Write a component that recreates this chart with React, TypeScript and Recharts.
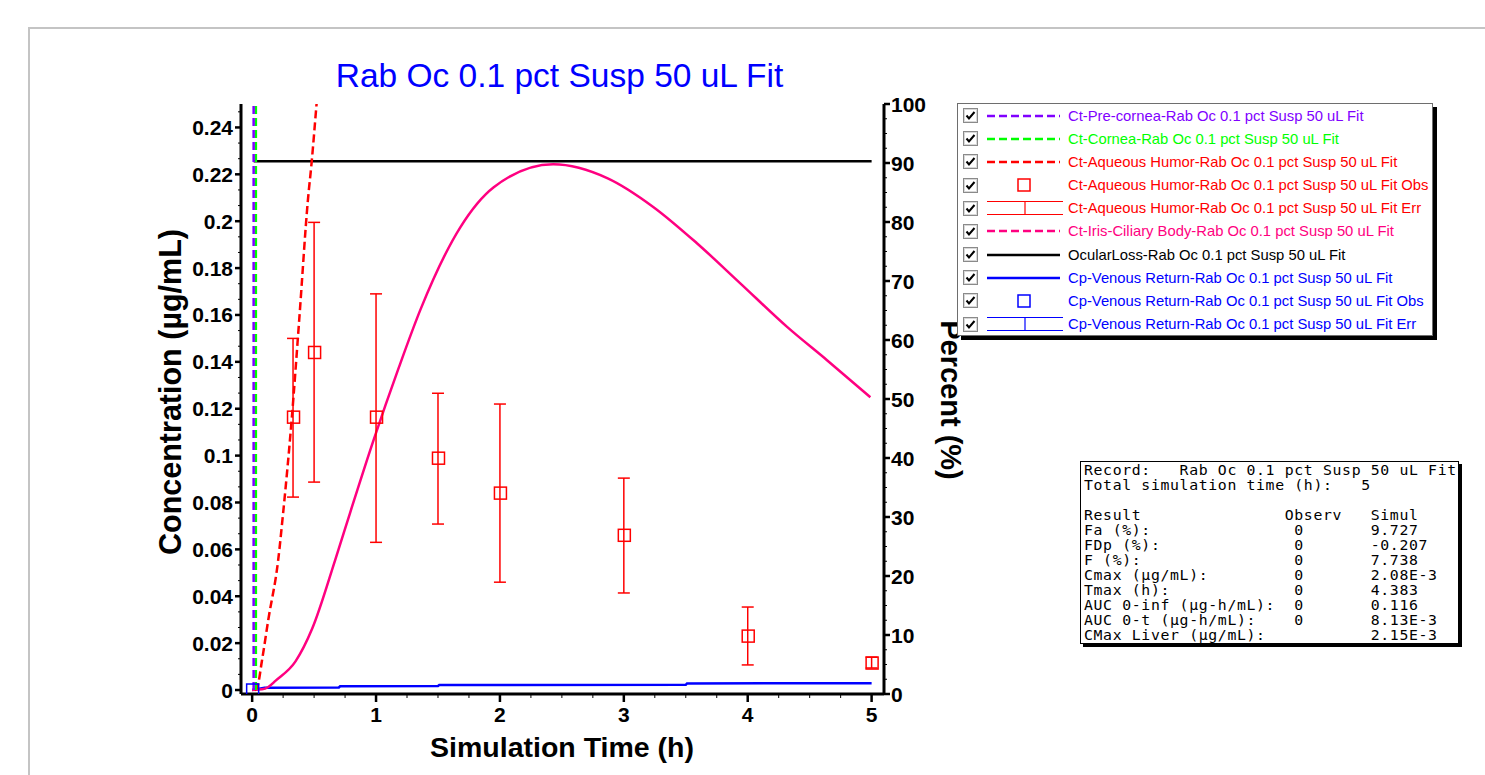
import React from "react";
import { ComposedChart, Line, Scatter, ErrorBar, XAxis, YAxis } from "recharts";

// time (h) and values
const preCorneaTime = [0.012, 0.012];
const preCorneaConc = [0, 1];

const corneaTime = [0.03, 0.03];
const corneaConc = [0, 1];

const aqueousTime = [0.02, 0.04, 0.08, 0.13, 0.21, 0.25, 0.32, 0.38, 0.45, 0.48, 0.52, 0.56];
const aqueousConc = [0, 0.001, 0.0128, 0.0299, 0.0554, 0.0755, 0.116, 0.158, 0.209, 0.225, 0.25, 0.275];

const aqObsTime = [0.33, 0.5, 1, 1.5, 2, 3, 4, 5];
const aqObsConc = [0.1164, 0.144, 0.1164, 0.0989, 0.084, 0.066, 0.023, 0.0115];
const aqObsHigh = [0.15, 0.1995, 0.169, 0.1266, 0.122, 0.0904, 0.0354, 0.014];
const aqObsLow = [0.0823, 0.0887, 0.063, 0.0708, 0.046, 0.0414, 0.0107, 0.0094];

const irisTime = [0, 0.08, 0.13, 0.19, 0.35, 0.485, 0.67, 0.79, 0.98, 1.18, 1.36, 1.68, 1.95, 2.43, 2.87, 3.24, 3.59, 3.94, 4.32, 4.64, 4.99];
const irisConc = [0, 0.0003, 0.0013, 0.004, 0.0122, 0.0262, 0.0554, 0.0755, 0.1066, 0.137, 0.1625, 0.1974, 0.2145, 0.2243, 0.2183, 0.206, 0.1906, 0.1735, 0.1548, 0.1407, 0.1249];

const ocularLossTime = [0.012, 5];
const ocularLossPct = [90.3, 90.3];

const venousTime = [0, 0.1, 0.7, 0.71, 1.5, 1.51, 3.5, 3.51, 5];
const venousConc = [0, 0.001, 0.0011, 0.0016, 0.0017, 0.0021, 0.0022, 0.0028, 0.0029];

const venousObsTime = [0];
const venousObsConc = [0];

const xMajorTicks = [0, 1, 2, 3, 4, 5];
const leftMajorTicks = [0, 0.02, 0.04, 0.06, 0.08, 0.1, 0.12, 0.14, 0.16, 0.18, 0.2, 0.22, 0.24];
const rightMajorTicks = [0, 10, 20, 30, 40, 50, 60, 70, 80, 90, 100];

const legendNames = [
  "Ct-Pre-cornea-Rab Oc 0.1 pct Susp 50 uL Fit",
  "Ct-Cornea-Rab Oc 0.1 pct Susp 50 uL Fit",
  "Ct-Aqueous Humor-Rab Oc 0.1 pct Susp 50 uL Fit",
  "Ct-Aqueous Humor-Rab Oc 0.1 pct Susp 50 uL Fit Obs",
  "Ct-Aqueous Humor-Rab Oc 0.1 pct Susp 50 uL Fit Err",
  "Ct-Iris-Ciliary Body-Rab Oc 0.1 pct Susp 50 uL Fit",
  "OcularLoss-Rab Oc 0.1 pct Susp 50 uL Fit",
  "Cp-Venous Return-Rab Oc 0.1 pct Susp 50 uL Fit",
  "Cp-Venous Return-Rab Oc 0.1 pct Susp 50 uL Fit Obs",
  "Cp-Venous Return-Rab Oc 0.1 pct Susp 50 uL Fit Err",
];
const legendKinds = ["dash", "dash", "dash", "square", "err", "dash", "line", "line", "square", "err"];

const resultLabels = ["Fa (%):", "FDp (%):", "F (%):", "Cmax (µg/mL):", "Tmax (h):", "AUC 0-inf (µg-h/mL):", "AUC 0-t (µg-h/mL):", "CMax Liver (µg/mL):"];
const resultObserv = ["0", "0", "0", "0", "0", "0", "0", ""];
const resultSimul = ["9.727", "-0.207", "7.738", "2.08E-3", "4.383", "0.116", "8.13E-3", "2.15E-3"];

const PURPLE = "#8000ff";
const GREEN = "#00ff00";
const RED = "#ff0000";
const PINK = "#ff0080";
const BLUE = "#0000ff";
const legendColors = [PURPLE, GREEN, RED, RED, RED, PINK, "#000000", BLUE, BLUE, BLUE];

const zip = (xs: number[], ys: number[]) => xs.map((x, i) => ({ x, y: ys[i] }));

const aqObs = aqObsTime.map((x, i) => ({
  x,
  y: aqObsConc[i],
  err: [aqObsConc[i] - aqObsLow[i], aqObsHigh[i] - aqObsConc[i]],
}));

// minor ticks
const xTicks: number[] = [];
for (let i = 0; i <= 20; i++) xTicks.push(i * 0.25);
const leftTicks: number[] = [];
for (let i = 0; i <= 37; i++) leftTicks.push(i * (0.02 / 3));
const rightTicks: number[] = [];
for (let i = 0; i <= 40; i++) rightTicks.push(i * 2.5);

const isIn = (v: number, list: number[]) => list.some((m) => Math.abs(m - v) < 1e-6);
const fmt = (v: number) => String(Number(v.toFixed(2)));

const FONT = "'Liberation Sans', Arial, sans-serif";
const tickFont = { fontFamily: FONT, fontWeight: 700, fontSize: 21 };

const BottomTick = (props: any) => {
  const { x, y, payload } = props;
  const major = isIn(payload.value, xMajorTicks);
  return (
    <g>
      <line x1={x} x2={x} y1={y} y2={y + (major ? 8 : 4)} stroke="#000" strokeWidth={major ? 2.5 : 1} />
      {major && (
        <text x={x} y={y + 28} textAnchor="middle" fill="#000" {...tickFont}>
          {payload.value}
        </text>
      )}
    </g>
  );
};

const LeftTick = (props: any) => {
  const { x, y, payload } = props;
  const major = isIn(payload.value, leftMajorTicks);
  return (
    <g>
      <line x1={x} x2={x - (major ? 6 : 3)} y1={y} y2={y} stroke="#000" strokeWidth={major ? 2.5 : 1} />
      {major && (
        <text x={x - 8} y={y + 7.5} textAnchor="end" fill="#000" {...tickFont}>
          {fmt(payload.value)}
        </text>
      )}
    </g>
  );
};

const RightTick = (props: any) => {
  const { x, y, payload } = props;
  const major = isIn(payload.value, rightMajorTicks);
  return (
    <g>
      <line x1={x} x2={x + (major ? 6 : 3)} y1={y} y2={y} stroke="#000" strokeWidth={major ? 2.5 : 1} />
      {major && (
        <text x={x + 7} y={y + 7.5} textAnchor="start" fill="#000" {...tickFont}>
          {payload.value}
        </text>
      )}
    </g>
  );
};

const square = (color: string) => (props: any) => (
  <rect x={props.cx - 5.5} y={props.cy - 6} width={12} height={12} fill="none" stroke={color} strokeWidth={1.5} />
);

function LegendSample({ kind, color }: { kind: string; color: string }) {
  return (
    <svg width={80} height={22} style={{ display: "block" }}>
      {kind === "dash" && <line x1={1} x2={74} y1={11} y2={11} stroke={color} strokeWidth={2.5} strokeDasharray="8 4" />}
      {kind === "line" && <line x1={1} x2={74} y1={11} y2={11} stroke={color} strokeWidth={2.5} />}
      {kind === "square" && <rect x={32} y={5} width={12} height={12} fill="none" stroke={color} strokeWidth={1.5} />}
      {kind === "err" && (
        <g stroke={color} strokeWidth={1.2}>
          <line x1={1} x2={77} y1={4.5} y2={4.5} />
          <line x1={1} x2={77} y1={17.5} y2={17.5} />
          <line x1={39} x2={39} y1={4.5} y2={17.5} />
        </g>
      )}
    </svg>
  );
}

function CheckBox() {
  return (
    <svg width={15} height={15} style={{ display: "block" }}>
      <rect x={0.5} y={0.5} width={14} height={14} fill="#fff" stroke="#8a8a8a" />
      <rect x={1.5} y={1.5} width={12} height={12} fill="none" stroke="#d8d8d8" />
      <path d="M3.5 7.5 L6 10.5 L11.5 4" fill="none" stroke="#000" strokeWidth={2} />
    </svg>
  );
}

export default function App() {
  const tableLines = [
    "Record:   Rab Oc 0.1 pct Susp 50 uL Fit",
    "Total simulation time (h):   5",
    "",
    "Result".padEnd(21) + "Observ".padEnd(9) + "Simul",
    ...resultLabels.map((l, i) => l.padEnd(22) + resultObserv[i].padEnd(8) + resultSimul[i]),
  ];

  return (
    <div style={{ position: "absolute", left: 0, top: 0, width: 1485, height: 775, background: "#fff", overflow: "hidden" }}>
      <div
        style={{
          position: "absolute",
          left: 28,
          top: 27,
          width: 1500,
          height: 800,
          borderTop: "2px solid #c4c4c4",
          borderLeft: "2px solid #c4c4c4",
        }}
      />
      <div style={{ position: "absolute", left: 0, top: 0 }}>
        <ComposedChart width={1485} height={775} margin={{ top: 104, right: 521, bottom: 31, left: 161 }}>
          <XAxis
            xAxisId="top"
            orientation="top"
            type="number"
            dataKey="x"
            domain={[-0.09, 5.1]}
            allowDataOverflow
            height={0}
            tick={false}
            tickLine={false}
            axisLine={{ stroke: "#a0a0a0", strokeWidth: 1.5 }}
          />
          <XAxis
            xAxisId="main"
            type="number"
            dataKey="x"
            domain={[-0.09, 5.1]}
            allowDataOverflow
            ticks={xTicks}
            interval={0}
            height={50}
            tickSize={0}
            tickMargin={0}
            tickLine={false}
            tick={BottomTick}
            axisLine={{ stroke: "#000", strokeWidth: 3 }}
          />
          <YAxis
            yAxisId="left"
            type="number"
            dataKey="y"
            domain={[-0.0017, 0.25]}
            allowDataOverflow
            ticks={leftTicks}
            interval={0}
            width={80}
            tickSize={0}
            tickMargin={0}
            tickLine={false}
            tick={LeftTick}
            axisLine={{ stroke: "#000", strokeWidth: 3 }}
          />
          <YAxis
            yAxisId="right"
            orientation="right"
            type="number"
            dataKey="y"
            domain={[0, 100]}
            allowDataOverflow
            ticks={rightTicks}
            interval={0}
            width={80}
            tickSize={0}
            tickMargin={0}
            tickLine={false}
            tick={RightTick}
            axisLine={{ stroke: "#000", strokeWidth: 3 }}
          />

          <Line xAxisId="main" yAxisId="left" data={zip(venousTime, venousConc)} dataKey="y" type="linear" stroke={BLUE} strokeWidth={2.5} dot={false} activeDot={false} isAnimationActive={false} />
          <Line xAxisId="main" yAxisId="left" data={zip(irisTime, irisConc)} dataKey="y" type="monotone" stroke={PINK} strokeWidth={2.5} dot={false} activeDot={false} isAnimationActive={false} />
          <Line xAxisId="main" yAxisId="right" data={zip(ocularLossTime, ocularLossPct)} dataKey="y" type="linear" stroke="#000" strokeWidth={2.5} dot={false} activeDot={false} isAnimationActive={false} />
          <Line xAxisId="main" yAxisId="left" data={zip(aqueousTime, aqueousConc)} dataKey="y" type="monotone" stroke={RED} strokeWidth={2.5} strokeDasharray="8 4" dot={false} activeDot={false} isAnimationActive={false} />
          <Line xAxisId="main" yAxisId="left" data={zip(corneaTime, corneaConc)} dataKey="y" type="linear" stroke={GREEN} strokeWidth={2.5} strokeDasharray="8 4" dot={false} activeDot={false} isAnimationActive={false} />
          <Line xAxisId="main" yAxisId="left" data={zip(preCorneaTime, preCorneaConc)} dataKey="y" type="linear" stroke={PURPLE} strokeWidth={2.5} strokeDasharray="8 4" dot={false} activeDot={false} isAnimationActive={false} />

          <Scatter xAxisId="main" yAxisId="left" data={aqObs} dataKey="y" shape={square(RED)} isAnimationActive={false}>
            <ErrorBar dataKey="err" direction="y" width={6} stroke={RED} strokeWidth={1.5} />
          </Scatter>
          <Scatter xAxisId="main" yAxisId="left" data={zip(venousObsTime, venousObsConc)} dataKey="y" shape={square(BLUE)} isAnimationActive={false} />
        </ComposedChart>
      </div>

      <svg width={1485} height={775} style={{ position: "absolute", left: 0, top: 0, pointerEvents: "none" }}>
        <text x={559.5} y={87} textAnchor="middle" fill="#0000ff" fontFamily={FONT} fontSize={33.5}>
          Rab Oc 0.1 pct Susp 50 uL Fit
        </text>
        <text x={562} y={757} textAnchor="middle" fill="#000" fontFamily={FONT} fontWeight={700} fontSize={28.5}>
          Simulation Time (h)
        </text>
        <text transform="translate(181,392) rotate(-90)" textAnchor="middle" fill="#000" fontFamily={FONT} fontWeight={700} fontSize={30.5}>
          Concentration (µg/mL)
        </text>
        <text transform="translate(941,400) rotate(90)" textAnchor="middle" fill="#000" fontFamily={FONT} fontWeight={700} fontSize={29}>
          Percent (%)
        </text>
      </svg>

      <div
        style={{
          position: "absolute",
          left: 957,
          top: 103,
          width: 476,
          height: 233,
          boxSizing: "border-box",
          border: "1px solid #6e6e6e",
          boxShadow: "4px 4px 0 #000",
          background: "#fff",
          paddingTop: 0,
        }}
      >
        {legendNames.map((name, i) => (
          <div key={name} style={{ display: "flex", alignItems: "center", height: 23.18 }}>
            <div style={{ marginLeft: 5, width: 15 }}>
              <CheckBox />
            </div>
            <div style={{ marginLeft: 8, width: 82 }}>
              <LegendSample kind={legendKinds[i]} color={legendColors[i]} />
            </div>
            <div
              style={{
                color: legendColors[i],
                fontFamily: FONT,
                fontSize: 14.8,
                whiteSpace: "nowrap",
              }}
            >
              {name}
            </div>
          </div>
        ))}
      </div>

      <div
        style={{
          position: "absolute",
          left: 1080,
          top: 461,
          width: 379,
          height: 183,
          boxSizing: "border-box",
          border: "1px solid #000",
          boxShadow: "3px 3px 0 #000",
          background: "#fff",
          padding: "0 0 0 3px",
        }}
      >
        <pre
          style={{
            margin: 0,
            fontFamily: "'DejaVu Sans Mono', monospace",
            fontSize: 14.8,
            letterSpacing: 0.65,
            lineHeight: "15px",
            color: "#000",
          }}
        >
          {tableLines.join("\n")}
        </pre>
      </div>
    </div>
  );
}
